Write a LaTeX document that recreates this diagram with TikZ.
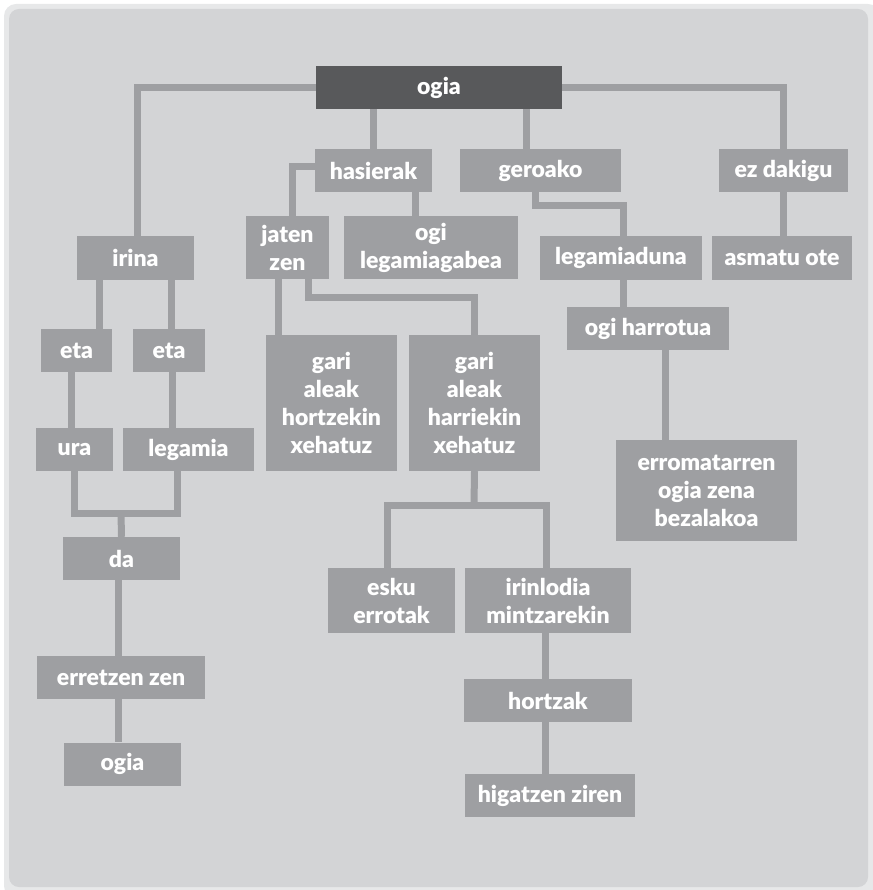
\documentclass[tikz,border=0pt]{standalone}
\usepackage{fontspec}
\setmainfont{Lato}[BoldFont={Lato Black}]
\usepackage{tikz}
\usetikzlibrary{positioning, calc, backgrounds}
\definecolor{panelgray}{HTML}{D3D4D6}
\definecolor{bandgray}{HTML}{E7E8E9}
\definecolor{boxgray}{HTML}{9E9FA2}
\definecolor{rootgray}{HTML}{58595B}
\tikzstyle{box} = [fill=boxgray, text=white, font=\fontsize{23}{28}\selectfont\bfseries, align=center, inner sep=0pt, minimum height=43]
\tikzstyle{link} = [draw=boxgray, line width=7pt]

\begin{document}
\begin{tikzpicture}[x=1pt, y=-1pt]
\useasboundingbox (0,0) rectangle (872,890);

% Top
\node[box, fill=rootgray, minimum width=246] (root) at (439,87.5) {ogia};
\node[box, minimum width=117] (hasierak) at (373.5,170.5) {hasierak};
\node[box, minimum width=161] (geroako) at (540.5,170.5) {geroako};
\node[box, minimum width=129] (ezdakigu) at (783.5,170.5) {ez dakigu};

% Second row
\node[box, minimum width=117] (irina) at (135.5,258) {irina};
\node[box, minimum width=83, minimum height=63] (jaten) at (287.5,247.5) {jaten\\zen};
\node[box, minimum width=174, minimum height=63] (ogileg) at (431,247.5) {ogi\\legamiagabea};
\node[box, minimum width=162] (legamiaduna) at (621,258) {legamiaduna};
\node[box, minimum width=140] (asmatu) at (782,258) {asmatu ote};
\node[box, minimum width=162] (harrotua) at (648,328.5) {ogi harrotua};

% Left branch
\node[box, minimum width=71] (eta1) at (76.5,350.5) {eta};
\node[box, minimum width=72] (eta2) at (169,350.5) {eta};
\node[box, minimum width=77] (ura) at (74.5,449.5) {ura};
\node[box, minimum width=131] (legamia) at (188.5,449.5) {legamia};
\node[box, minimum width=117] (da) at (121.5,558.5) {da};
\node[box, minimum width=168] (erretzen) at (121,677.5) {erretzen zen};
\node[box, minimum width=117] (ogia) at (122.5,764) {ogia};

% Middle branch
\node[box, minimum width=131, minimum height=136] (hortzekin) at (331.5,403) {gari\\aleak\\hortzekin\\xehatuz};
\node[box, minimum width=131, minimum height=136] (harriekin) at (474.5,403) {gari\\aleak\\harriekin\\xehatuz};
\node[box, minimum width=127, minimum height=65] (esku) at (391.5,600.5) {esku\\errotak};
\node[box, minimum width=166, minimum height=65] (irinlodia) at (548,600.5) {irinlodia\\mintzarekin};
\node[box, minimum width=168] (hortzak) at (548,700.5) {hortzak};
\node[box, minimum width=170] (higatzen) at (550,795.5) {higatzen ziren};

% Right branch
\node[box, minimum width=181, minimum height=101] (erroma) at (706.5,490.5) {erromatarren\\ogia zena\\bezalakoa};

% Joints
\coordinate (jatenbend) at (308,297);
\coordinate (geroakobend) at (535,206);
\coordinate (harrisplit) at (474,505);
\coordinate (dajoin) at (121,513);

\begin{scope}[on background layer]
% Panel
\fill[bandgray, rounded corners=12pt] (4,4) rectangle (880,898);
\fill[panelgray, rounded corners=10pt] (9,9) rectangle (868,887);

% Links from the top
\draw[link] (root.west) -| ([xshift=1.5pt]irina.north);
\draw[link] (root.south -| hasierak.north) -- (hasierak.north);
\draw[link] ([xshift=-14pt]geroako.north) -- ([xshift=-14pt]geroako.north |- root.south);
\draw[link] (root.east) -| (ezdakigu.north);

\draw[link] ([yshift=4pt]hasierak.west) -| ([xshift=4.5pt]jaten.north);
\draw[link] ([xshift=-16pt]ogileg.north) -- ([xshift=-16pt]ogileg.north |- hasierak.south);
\draw[link] (geroakobend |- geroako.south) -- (geroakobend) -| ([xshift=2pt]legamiaduna.north);
\draw[link] (ezdakigu.south) -- (ezdakigu.south |- asmatu.north);
\draw[link] ([xshift=2pt]legamiaduna.south) -- ([xshift=2pt]legamiaduna.south |- harrotua.north);
\draw[link] ([xshift=17pt]harrotua.south) -- ([xshift=17pt]harrotua.south |- erroma.north);

% Left links
\draw[link] ([xshift=22.5pt]eta1.north) -- ([xshift=22.5pt]eta1.north |- irina.south);
\draw[link] ([xshift=2pt]eta2.north) -- ([xshift=2pt]eta2.north |- irina.south);
\draw[link] ([xshift=-5.5pt]eta1.south) -- ([xshift=-5.5pt]eta1.south |- ura.north);
\draw[link] ([xshift=3pt]eta2.south) -- ([xshift=3pt]eta2.south |- legamia.north);
\draw[link] (ura.south) |- (dajoin) -| ([xshift=-11.5pt]legamia.south);
\draw[link] (dajoin) -- (da.north);
\draw[link] ([xshift=-3pt]da.south) -- ([xshift=-3pt]da.south |- erretzen.north);
\draw[link] ([xshift=-3pt]erretzen.south) -- ([xshift=-3pt]erretzen.south |- ogia.north);

% Middle links
\draw[link] ([xshift=-9.5pt]jaten.south) -- ([xshift=-9.5pt]jaten.south |- hortzekin.north);
\draw[link] (jatenbend |- jaten.south) -- (jatenbend) -| (harriekin.north);
\draw[link] (harriekin.south) -- (harrisplit);
\draw[link] ([xshift=-4.5pt]esku.north) |- (harrisplit) -| ([xshift=-2pt]irinlodia.north);
\draw[link] ([xshift=-3pt]irinlodia.south) -- ([xshift=-3pt]irinlodia.south |- hortzak.north);
\draw[link] ([xshift=-3pt]hortzak.south) -- ([xshift=-3pt]hortzak.south |- higatzen.north);
\end{scope}
\end{tikzpicture}
\end{document}
